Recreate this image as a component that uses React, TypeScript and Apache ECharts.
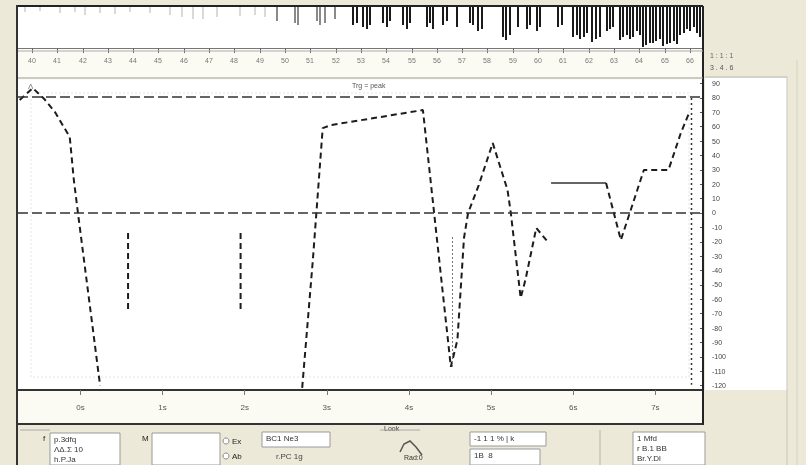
import React, { useEffect, useRef } from "react";
import * as echarts from "echarts";

// ---------- data ----------
// overview strip: [sample, depth]
const overviewFaint: [number, number][] = [
  [7, 5], [22, 4], [42, 6], [57, 5], [67, 8], [82, 6], [97, 7], [112, 5], [132, 6], [152, 8],
  [164, 10], [175, 12], [185, 12], [199, 10], [222, 9], [237, 8], [247, 10],
];
const overviewMid: [number, number][] = [
  [259, 14], [277, 16], [280, 18], [299, 14], [302, 18], [307, 16], [317, 12],
];
const overviewDark: [number, number][] = [
  [335, 18], [339, 16], [345, 20], [349, 22], [352, 18], [365, 16], [369, 20], [372, 14],
  [385, 18], [389, 22], [392, 16], [409, 20], [412, 16], [415, 22], [425, 18], [429, 14],
  [439, 20], [452, 16], [455, 18], [460, 24], [464, 22], [485, 30], [488, 33], [492, 28],
  [500, 20], [509, 22], [512, 18], [519, 24], [522, 20], [540, 20], [544, 18], [555, 30],
  [559, 28], [562, 32], [566, 30], [569, 26], [574, 35], [578, 32], [582, 30], [589, 24],
  [592, 22], [595, 20], [602, 33], [605, 30], [609, 28], [612, 32], [615, 30], [619, 24],
  [622, 28], [625, 40], [628, 38], [632, 36], [635, 36], [638, 34], [642, 32], [645, 39],
  [649, 37], [652, 36], [656, 34], [659, 37], [662, 28], [666, 26], [669, 22], [672, 24],
  [676, 20], [679, 26], [682, 30],
];
const overviewTicks = [14, 39, 65, 90, 115, 140, 166, 191, 216, 242, 267, 292, 318, 343, 368, 394, 419, 444, 469, 495, 520, 545, 571, 596, 621, 647, 672];
const overviewTickLabels = ["40", "41", "42", "43", "44", "45", "46", "47", "48", "49", "50", "51", "52", "53", "54", "55", "56", "57", "58", "59", "60", "61", "62", "63", "64", "65", "66"];

// main trace segments: [time, level]
const segA: [number, number][] = [
  [-7.4, 78.5], [-5.8, 86.8], [-4.4, 79.2], [-3.1, 70.1], [-1.3, 52.8], [-0.8, 22.9], [-0.3, 0], [2.4, -120.1],
];
const segB: [number, number][] = [[5.8, -13.9], [5.8, -69.4]];
const segC: [number, number][] = [[19.5, -13.9], [19.5, -69.4]];
const segD: [number, number][] = [
  [27.0, -121.5], [28.3, -32.6], [29.5, 59.0], [30.5, 61.1], [41.7, 71.5], [45.1, -106.9],
  [45.9, -88.2], [46.7, -17.4], [47.2, 0], [48.5, 19.4], [50.2, 48.6], [52.0, 16.0], [52.4, 0],
  [53.6, -59.0], [54.2, -46.0], [55.5, -10.4], [57.0, -20.8],
];
const segLevel: [number, number][] = [[57.3, 20.8], [64.0, 20.8]];
const segF: [number, number][] = [
  [64.0, 20.8], [65.8, -18.8], [68.6, 29.9], [71.6, 29.9], [73.1, 55.6], [74.1, 69.4],
];
const markerLine: [number, number][] = [[45.3, -16.7], [45.3, -106.9]];
const cursorLine: [number, number][] = [[74.4, 79.9], [74.4, -119.4]];
const refLevels = [80.6, 0];

const levelTicks = [-120, -110, -100, -90, -80, -70, -60, -50, -40, -30, -20, -10, 0, 10, 20, 30, 40, 50, 60, 70, 80, 90];
const timeTicks = [0, 10, 20, 30, 40, 50, 60, 70];
const timeTickLabels = ["0s", "1s", "2s", "3s", "4s", "5s", "6s", "7s"];

const FONT = "Liberation Sans";
const BEIGE = "#ECE9D8";

function box(x: number, y: number, w: number, h: number, lines: string[]) {
  const els: any[] = [
    { type: "rect", shape: { x, y, width: w, height: h }, style: { fill: "#fff", stroke: "#9a9a9a", lineWidth: 1 }, z: 5 },
  ];
  lines.forEach((t, i) => {
    els.push({ type: "text", x: x + 4, y: y + 2 + i * 10, style: { text: t, fontSize: 8, fontFamily: FONT, fill: "#333" }, z: 6 });
  });
  return els;
}

function txt(x: number, y: number, t: string, size = 8, fill = "#333") {
  return { type: "text", x, y, style: { text: t, fontSize: size, fontFamily: FONT, fill }, z: 6 };
}

function ln(x1: number, y1: number, x2: number, y2: number, stroke = "#333", lineWidth = 1, lineDash?: number[]) {
  return { type: "line", shape: { x1, y1, x2, y2 }, style: { stroke, lineWidth, lineDash }, z: 7, silent: true };
}

export default function App() {
  const ref = useRef<HTMLDivElement>(null);
  useEffect(() => {
    if (!ref.current) return;
    const chart = echarts.init(ref.current, undefined, { renderer: "svg" });

    const dashed = { color: "#1c1c1c", width: 2, type: [6, 4] as any };
    const lineSeries = (data: [number, number][], lineStyle: any) => ({
      type: "line",
      xAxisIndex: 1,
      yAxisIndex: 1,
      data,
      showSymbol: false,
      symbol: "none",
      lineStyle,
      silent: true,
      z: 4,
    });

    const graphics: any[] = [
      { type: "rect", shape: { x: 0, y: 0, width: 806, height: 465 }, style: { fill: BEIGE }, z: -10, silent: true },
      { type: "rect", shape: { x: 18, y: 48, width: 685, height: 32 }, style: { fill: "#fbfbf4" }, z: -5, silent: true },
      { type: "rect", shape: { x: 705, y: 78, width: 82, height: 312 }, style: { fill: "#fff" }, z: -5, silent: true },
      { type: "rect", shape: { x: 31, y: 93, width: 658, height: 284 }, style: { fill: "none", stroke: "#e4e4e4", lineDash: [2, 2], lineWidth: 1 }, z: 1, silent: true },
      // frame lines
      ln(17, 6, 703, 6, "#222", 2),
      ln(17, 5, 17, 465, "#333", 2),
      ln(703, 6, 703, 425, "#222", 2),
      ln(18, 51, 703, 51, "#aaa", 1),
      ln(18, 78, 703, 78, "#999", 1),
      ln(18, 424, 703, 424, "#333", 2),
      ln(705, 77, 787, 77, "#bbb", 1),
      ln(787, 77, 787, 465, "#c8c6b8", 1),
      ln(797, 60, 797, 465, "#d6d3c4", 1),
      txt(710, 52, "1 : 1 : 1", 7, "#666"),
      txt(710, 64, "3 . 4 . 6", 7, "#555"),
      txt(352, 82, "Trg = peak", 7, "#555"),
      txt(28, 82, "Λ", 8, "#777"),
      // bottom control panel
      ln(20, 430, 50, 430, "#aaa"),
      ...box(50, 433, 70, 32, ["p.3dfq", "ΛΔ.Σ 10", "h.P.Ja"]),
      txt(43, 434, "f", 8, "#222"),
      txt(142, 434, "M", 8, "#222"),
      ...box(152, 433, 68, 32, []),
      { type: "circle", shape: { cx: 226, cy: 441, r: 3 }, style: { fill: "#fff", stroke: "#888" }, z: 6 },
      { type: "circle", shape: { cx: 226, cy: 456, r: 3 }, style: { fill: "#fff", stroke: "#888" }, z: 6 },
      txt(232, 437, "Ex", 8, "#222"),
      txt(232, 452, "Ab", 8, "#222"),
      ...box(262, 432, 68, 15, ["BC1 Ne3"]),
      txt(276, 452, "r.PC 1g", 8, "#444"),
      ln(380, 430, 420, 430, "#aaa"),
      txt(384, 425, "Look", 7, "#333"),
      { type: "polyline", shape: { points: [[400, 452], [404, 444], [410, 441], [416, 447], [422, 455]] }, style: { stroke: "#555", lineWidth: 1.5, fill: "none" }, z: 6 },
      txt(404, 454, "Rad:0", 7, "#333"),
      ...box(470, 432, 76, 14, ["-1 1 1 % | k"]),
      ...box(470, 449, 70, 16, ["1B  8"]),
      ln(600, 430, 600, 465, "#b8b5a6"),
      ...box(633, 432, 72, 33, ["1 Mfd", "r B.1 BB", "Br.Y.Dl"]),
    ];

    chart.setOption({
      animation: false,
      textStyle: { fontFamily: FONT },
      grid: [
        { left: 18, top: 7, width: 685, height: 41, show: true, backgroundColor: "#fff", borderWidth: 0 },
        { left: 18, top: 80, width: 685, height: 310, show: true, backgroundColor: "#fff", borderWidth: 0 },
        { left: 18, top: 390, width: 685, height: 34, show: true, backgroundColor: "#fbfbf4", borderWidth: 0 },
      ],
      xAxis: [
        {
          gridIndex: 0, type: "value", min: 0, max: 685, position: "bottom",
          axisLine: { show: true, onZero: false, lineStyle: { color: "#777", width: 1 } },
          axisTick: { show: true, customValues: overviewTicks, length: 5, lineStyle: { color: "#666" } },
          axisLabel: {
            show: true, customValues: overviewTicks, fontSize: 7, color: "#777", margin: 9,
            formatter: (v: number) => overviewTickLabels[overviewTicks.indexOf(v)] ?? "",
          },
          splitLine: { show: false },
        },
        { gridIndex: 1, type: "value", min: -7.6, max: 75.8, show: false },
        {
          gridIndex: 2, type: "value", min: -7.6, max: 75.8, position: "top",
          axisLine: { show: true, onZero: false, lineStyle: { color: "#333", width: 2 } },
          axisTick: { show: true, inside: true, length: 5, customValues: timeTicks, lineStyle: { color: "#777" } },
          axisLabel: {
            show: true, inside: true, customValues: timeTicks, margin: 13, fontSize: 8, color: "#555",
            formatter: (v: number) => timeTickLabels[timeTicks.indexOf(v)] ?? "",
          },
          splitLine: { show: false },
        },
      ],
      yAxis: [
        { gridIndex: 0, type: "value", min: 0, max: 41, inverse: true, show: false },
        {
          gridIndex: 1, type: "value", min: -123, max: 92.4, position: "right",
          axisLine: { show: true, onZero: false, lineStyle: { color: "#222", width: 2 } },
          axisTick: { show: true, inside: true, length: 3, customValues: levelTicks, lineStyle: { color: "#555" } },
          axisLabel: { show: true, customValues: levelTicks, fontSize: 7, color: "#444", margin: 9 },
          splitLine: { show: false },
        },
        { gridIndex: 2, type: "value", min: 0, max: 1, show: false },
      ],
      series: [
        { type: "bar", xAxisIndex: 0, yAxisIndex: 0, data: overviewFaint, barWidth: 2, barGap: "-100%", itemStyle: { color: "#d9d9d9" }, silent: true },
        { type: "bar", xAxisIndex: 0, yAxisIndex: 0, data: overviewMid, barWidth: 2, barGap: "-100%", itemStyle: { color: "#8a8a8a" }, silent: true },
        { type: "bar", xAxisIndex: 0, yAxisIndex: 0, data: overviewDark, barWidth: 2, barGap: "-100%", itemStyle: { color: "#1a1a1a" }, silent: true },
        {
          ...lineSeries(segA, dashed),
          markLine: {
            silent: true, symbol: "none", label: { show: false },
            lineStyle: { color: "#333", width: 1.5, type: [10, 4] },
            data: refLevels.map((y) => ({ yAxis: y })),
          },
        },
        lineSeries(segB, dashed),
        lineSeries(segC, dashed),
        lineSeries(segD, dashed),
        lineSeries(segLevel, { color: "#333", width: 1.5, type: "solid" }),
        lineSeries(segF, dashed),
        lineSeries(markerLine, { color: "#777", width: 1, type: [2, 2] }),
        lineSeries(cursorLine, { color: "#333", width: 1.5, type: [2, 3] }),
      ],
      graphic: graphics,
    });
    return () => chart.dispose();
  }, []);
  return <div ref={ref} style={{ position: "fixed", left: 0, top: 0, width: 806, height: 465 }} />;
}
